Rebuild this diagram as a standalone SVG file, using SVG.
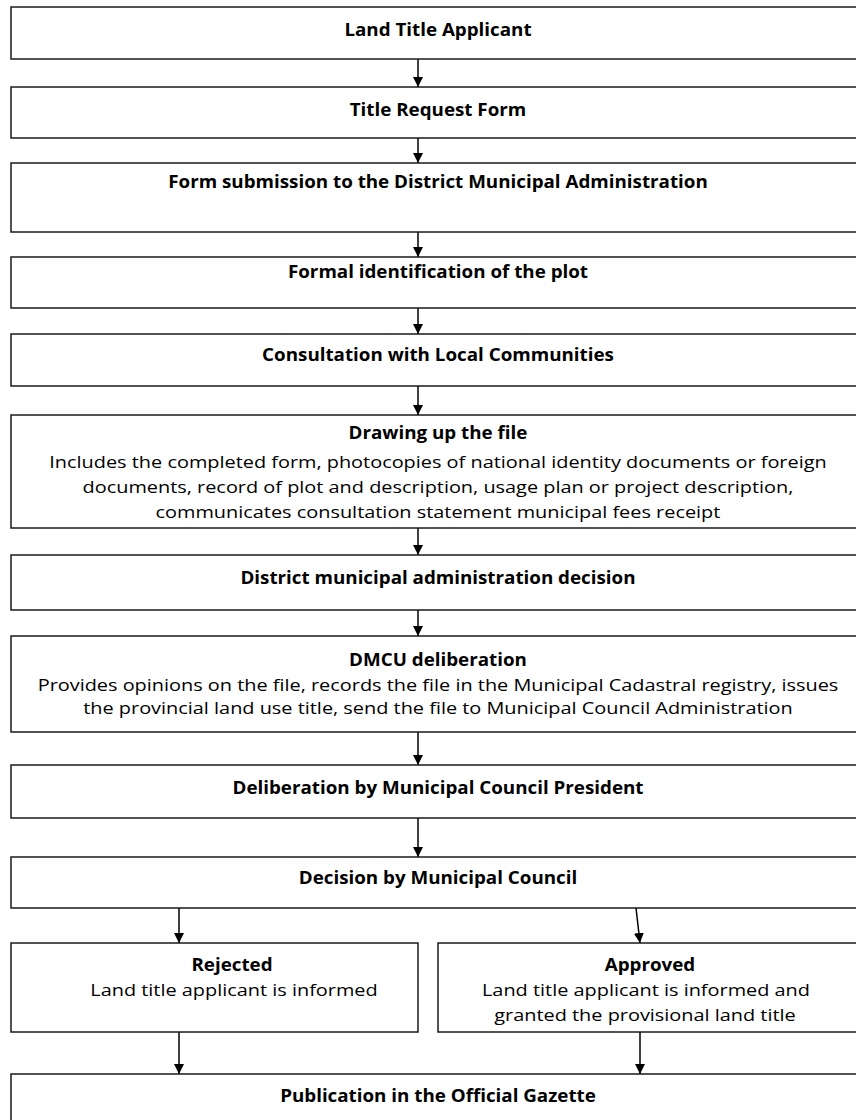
<svg xmlns="http://www.w3.org/2000/svg" width="856" height="1120" viewBox="0 0 856 1120">
<style>
  .box{fill:#fff;stroke:#1a1a1a;stroke-width:1.5}
  .t{font-family:"Open Sans","Liberation Sans",sans-serif;font-size:17px;fill:#000;text-anchor:middle;transform-box:fill-box;transform-origin:center;transform:scaleX(1.17)}
  .b{font-weight:bold;transform:scaleX(1.105)}
  .c{stroke:#000;stroke-width:1.5;fill:none;marker-end:url(#ah)}
</style>
<defs>
  <marker id="ah" markerUnits="userSpaceOnUse" markerWidth="10" markerHeight="10" refX="10" refY="5" orient="auto" viewBox="0 0 10 10">
    <path d="M0,0 L10,5 L0,10 z" fill="#000"/>
  </marker>
</defs>
<rect width="856" height="1120" fill="#fff"/>
<g id="connectors">
  <line class="c" x1="418" y1="59" x2="418" y2="87"/>
  <line class="c" x1="418" y1="138" x2="418" y2="163"/>
  <line class="c" x1="418" y1="232" x2="418" y2="257"/>
  <line class="c" x1="418" y1="308" x2="418" y2="334"/>
  <line class="c" x1="418" y1="386" x2="418" y2="415"/>
  <line class="c" x1="418" y1="528" x2="418" y2="555"/>
  <line class="c" x1="418" y1="610" x2="418" y2="636"/>
  <line class="c" x1="418" y1="732" x2="418" y2="765"/>
  <line class="c" x1="418" y1="818" x2="418" y2="857"/>
  <line class="c" x1="179" y1="908" x2="179" y2="943"/>
  <line class="c" x1="636" y1="908" x2="640" y2="943"/>
  <line class="c" x1="179" y1="1032" x2="179" y2="1074"/>
  <line class="c" x1="640" y1="1032" x2="640" y2="1074"/>
</g>
<g id="n1"><rect class="box" x="11" y="7" width="855" height="52"/><text class="t b" x="438" y="36">Land Title Applicant</text></g>
<g id="n2"><rect class="box" x="11" y="87" width="855" height="51"/><text class="t b" x="438" y="116">Title Request Form</text></g>
<g id="n3"><rect class="box" x="11" y="163" width="855" height="69"/><text class="t b" x="438" y="188">Form submission to the District Municipal Administration</text></g>
<g id="n4"><rect class="box" x="11" y="257" width="855" height="51"/><text class="t b" x="438" y="278">Formal identification of the plot</text></g>
<g id="n5"><rect class="box" x="11" y="334" width="855" height="52"/><text class="t b" x="438" y="361">Consultation with Local Communities</text></g>
<g id="n6"><rect class="box" x="11" y="415" width="855" height="113"/>
  <text class="t b" x="438" y="439">Drawing up the file</text>
  <text class="t" x="438" y="468">Includes the completed form, photocopies of national identity documents or foreign</text>
  <text class="t" x="438" y="493">documents, record of plot and description, usage plan or project description,</text>
  <text class="t" x="438" y="518">communicates consultation statement municipal fees receipt</text>
</g>
<g id="n7"><rect class="box" x="11" y="555" width="855" height="55"/><text class="t b" x="438" y="584">District municipal administration decision</text></g>
<g id="n8"><rect class="box" x="11" y="636" width="855" height="96"/>
  <text class="t b" x="438" y="666">DMCU deliberation</text>
  <text class="t" x="438" y="691">Provides opinions on the file, records the file in the Municipal Cadastral registry, issues</text>
  <text class="t" x="438" y="714">the provincial land use title, send the file to Municipal Council Administration</text>
</g>
<g id="n9"><rect class="box" x="11" y="765" width="855" height="53"/><text class="t b" x="438" y="794">Deliberation by Municipal Council President</text></g>
<g id="n10"><rect class="box" x="11" y="857" width="855" height="51"/><text class="t b" x="438" y="884">Decision by Municipal Council</text></g>
<g id="n11"><rect class="box" x="11" y="943" width="407" height="89"/>
  <text class="t b" x="232" y="971">Rejected</text>
  <text class="t" x="234" y="996">Land title applicant is informed</text>
</g>
<g id="n12"><rect class="box" x="438" y="943" width="428" height="89"/>
  <text class="t b" x="650" y="971">Approved</text>
  <text class="t" x="646" y="996">Land title applicant is informed and</text>
  <text class="t" x="645" y="1021">granted the provisional land title</text>
</g>
<g id="n13"><rect class="box" x="11" y="1074" width="855" height="60"/><text class="t b" x="438" y="1102">Publication in the Official Gazette</text></g>
</svg>
